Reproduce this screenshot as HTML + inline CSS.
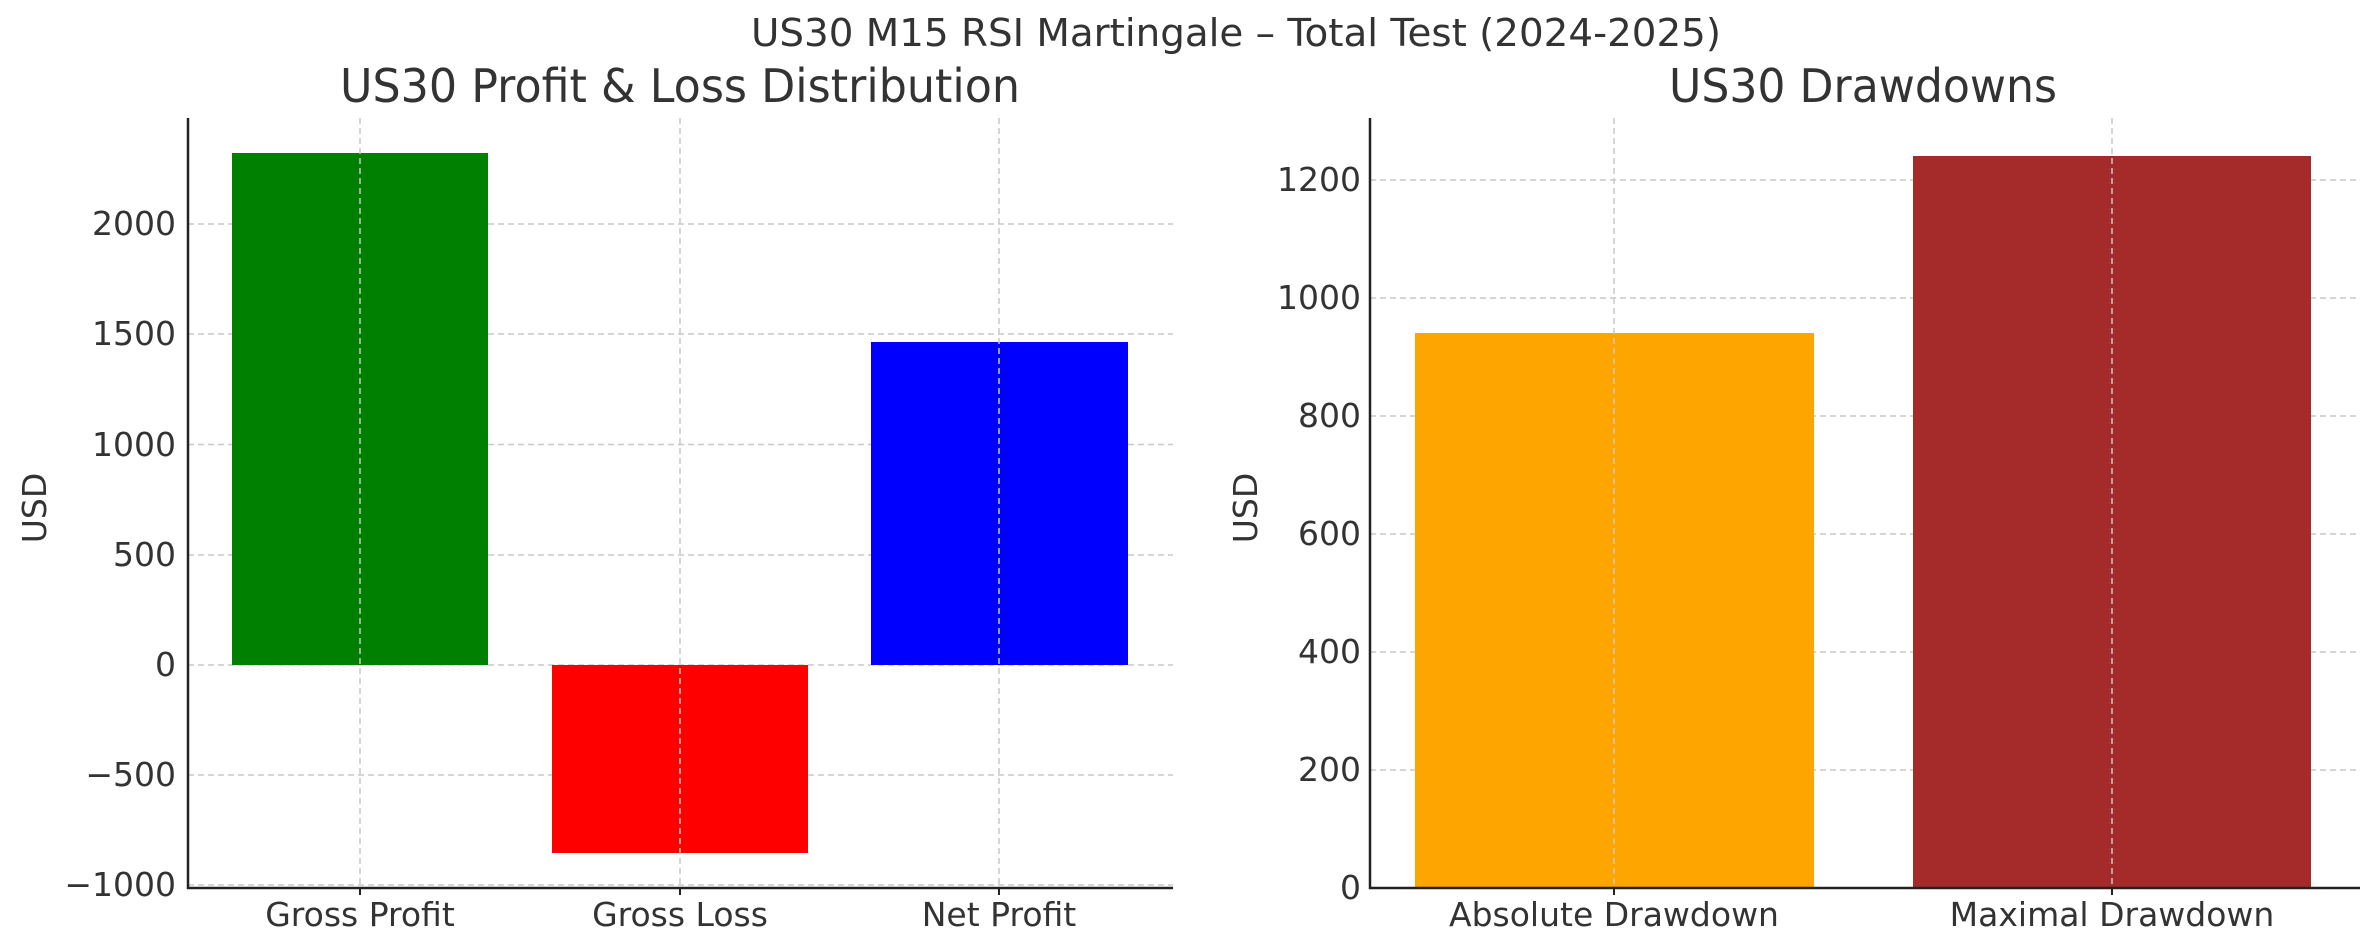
<!DOCTYPE html>
<html><head><meta charset="utf-8"><style>html,body{margin:0;padding:0;background:#fff;overflow:hidden}svg{display:block}</style></head>
<body>
<svg width="2376" height="952" viewBox="0 0 2376 952" xmlns="http://www.w3.org/2000/svg" font-family="DejaVu Sans, Liberation Sans, sans-serif" fill="#333">
<text x="1236" y="46" font-size="38" text-anchor="middle" textLength="970" lengthAdjust="spacingAndGlyphs">US30 M15 RSI Martingale – Total Test (2024-2025)</text>
<text x="680" y="102" font-size="46" text-anchor="middle" textLength="680" lengthAdjust="spacingAndGlyphs">US30 Profit &amp; Loss Distribution</text>
<text x="1863" y="102" font-size="46" text-anchor="middle" textLength="388" lengthAdjust="spacingAndGlyphs">US30 Drawdowns</text>

<!-- left panel -->
<g stroke="#c8c8c8" stroke-width="1.5" stroke-dasharray="6,4">
<line x1="188" x2="1173" y1="224" y2="224"/><line x1="188" x2="1173" y1="334" y2="334"/><line x1="188" x2="1173" y1="444.5" y2="444.5"/><line x1="188" x2="1173" y1="555" y2="555"/><line x1="188" x2="1173" y1="665" y2="665"/><line x1="188" x2="1173" y1="775" y2="775"/><line x1="188" x2="1173" y1="885" y2="885"/>
</g>
<rect x="232" y="153" width="256" height="512" fill="#008000"/>
<rect x="552" y="665" width="256" height="188" fill="#ff0000"/>
<rect x="871" y="342" width="257" height="323" fill="#0000ff"/>
<g stroke="#c8c8c8" stroke-width="1.5" stroke-dasharray="6,4">
<line x1="360" x2="360" y1="118" y2="888"/><line x1="680" x2="680" y1="118" y2="888"/><line x1="999" x2="999" y1="118" y2="888"/>
</g>
<g stroke="#222" stroke-width="2.5"><line x1="188" y1="118" x2="188" y2="889"/><line x1="187" y1="888" x2="1173" y2="888"/></g>
<g stroke="#222" stroke-width="2"><line x1="360" x2="360" y1="888" y2="895"/><line x1="680" x2="680" y1="888" y2="895"/><line x1="999" x2="999" y1="888" y2="895"/></g>
<g font-size="33" text-anchor="end">
<text x="176" y="235">2000</text><text x="176" y="345">1500</text><text x="176" y="456">1000</text><text x="176" y="566">500</text><text x="176" y="676">0</text><text x="176" y="786">−500</text><text x="176" y="896">−1000</text>
</g>
<g font-size="33" text-anchor="middle"><text x="360" y="926">Gross Profit</text><text x="680" y="926">Gross Loss</text><text x="999" y="926">Net Profit</text></g>
<text transform="translate(46,508) rotate(-90)" font-size="33" text-anchor="middle">USD</text>

<!-- right panel -->
<g stroke="#c8c8c8" stroke-width="1.5" stroke-dasharray="6,4">
<line x1="1370" x2="2358" y1="180" y2="180"/><line x1="1370" x2="2358" y1="298" y2="298"/><line x1="1370" x2="2358" y1="416" y2="416"/><line x1="1370" x2="2358" y1="534" y2="534"/><line x1="1370" x2="2358" y1="652" y2="652"/><line x1="1370" x2="2358" y1="770" y2="770"/>
</g>
<rect x="1415" y="333" width="399" height="555" fill="#ffa500"/>
<rect x="1913" y="156" width="398" height="732" fill="#a52a2a"/>
<g stroke="#c8c8c8" stroke-width="1.5" stroke-dasharray="6,4">
<line x1="1614" x2="1614" y1="118" y2="888"/><line x1="2112" x2="2112" y1="118" y2="888"/>
</g>
<g stroke="#222" stroke-width="2.5"><line x1="1370" y1="118" x2="1370" y2="889"/><line x1="1369" y1="888" x2="2360" y2="888"/></g>
<g stroke="#222" stroke-width="2"><line x1="1614" x2="1614" y1="888" y2="895"/><line x1="2112" x2="2112" y1="888" y2="895"/></g>
<g font-size="33" text-anchor="end">
<text x="1361" y="191">1200</text><text x="1361" y="309">1000</text><text x="1361" y="427">800</text><text x="1361" y="545">600</text><text x="1361" y="663">400</text><text x="1361" y="781">200</text><text x="1361" y="899">0</text>
</g>
<g font-size="33" text-anchor="middle"><text x="1614" y="926">Absolute Drawdown</text><text x="2112" y="926">Maximal Drawdown</text></g>
<text transform="translate(1257,508) rotate(-90)" font-size="33" text-anchor="middle">USD</text>
</svg>
</body></html>
